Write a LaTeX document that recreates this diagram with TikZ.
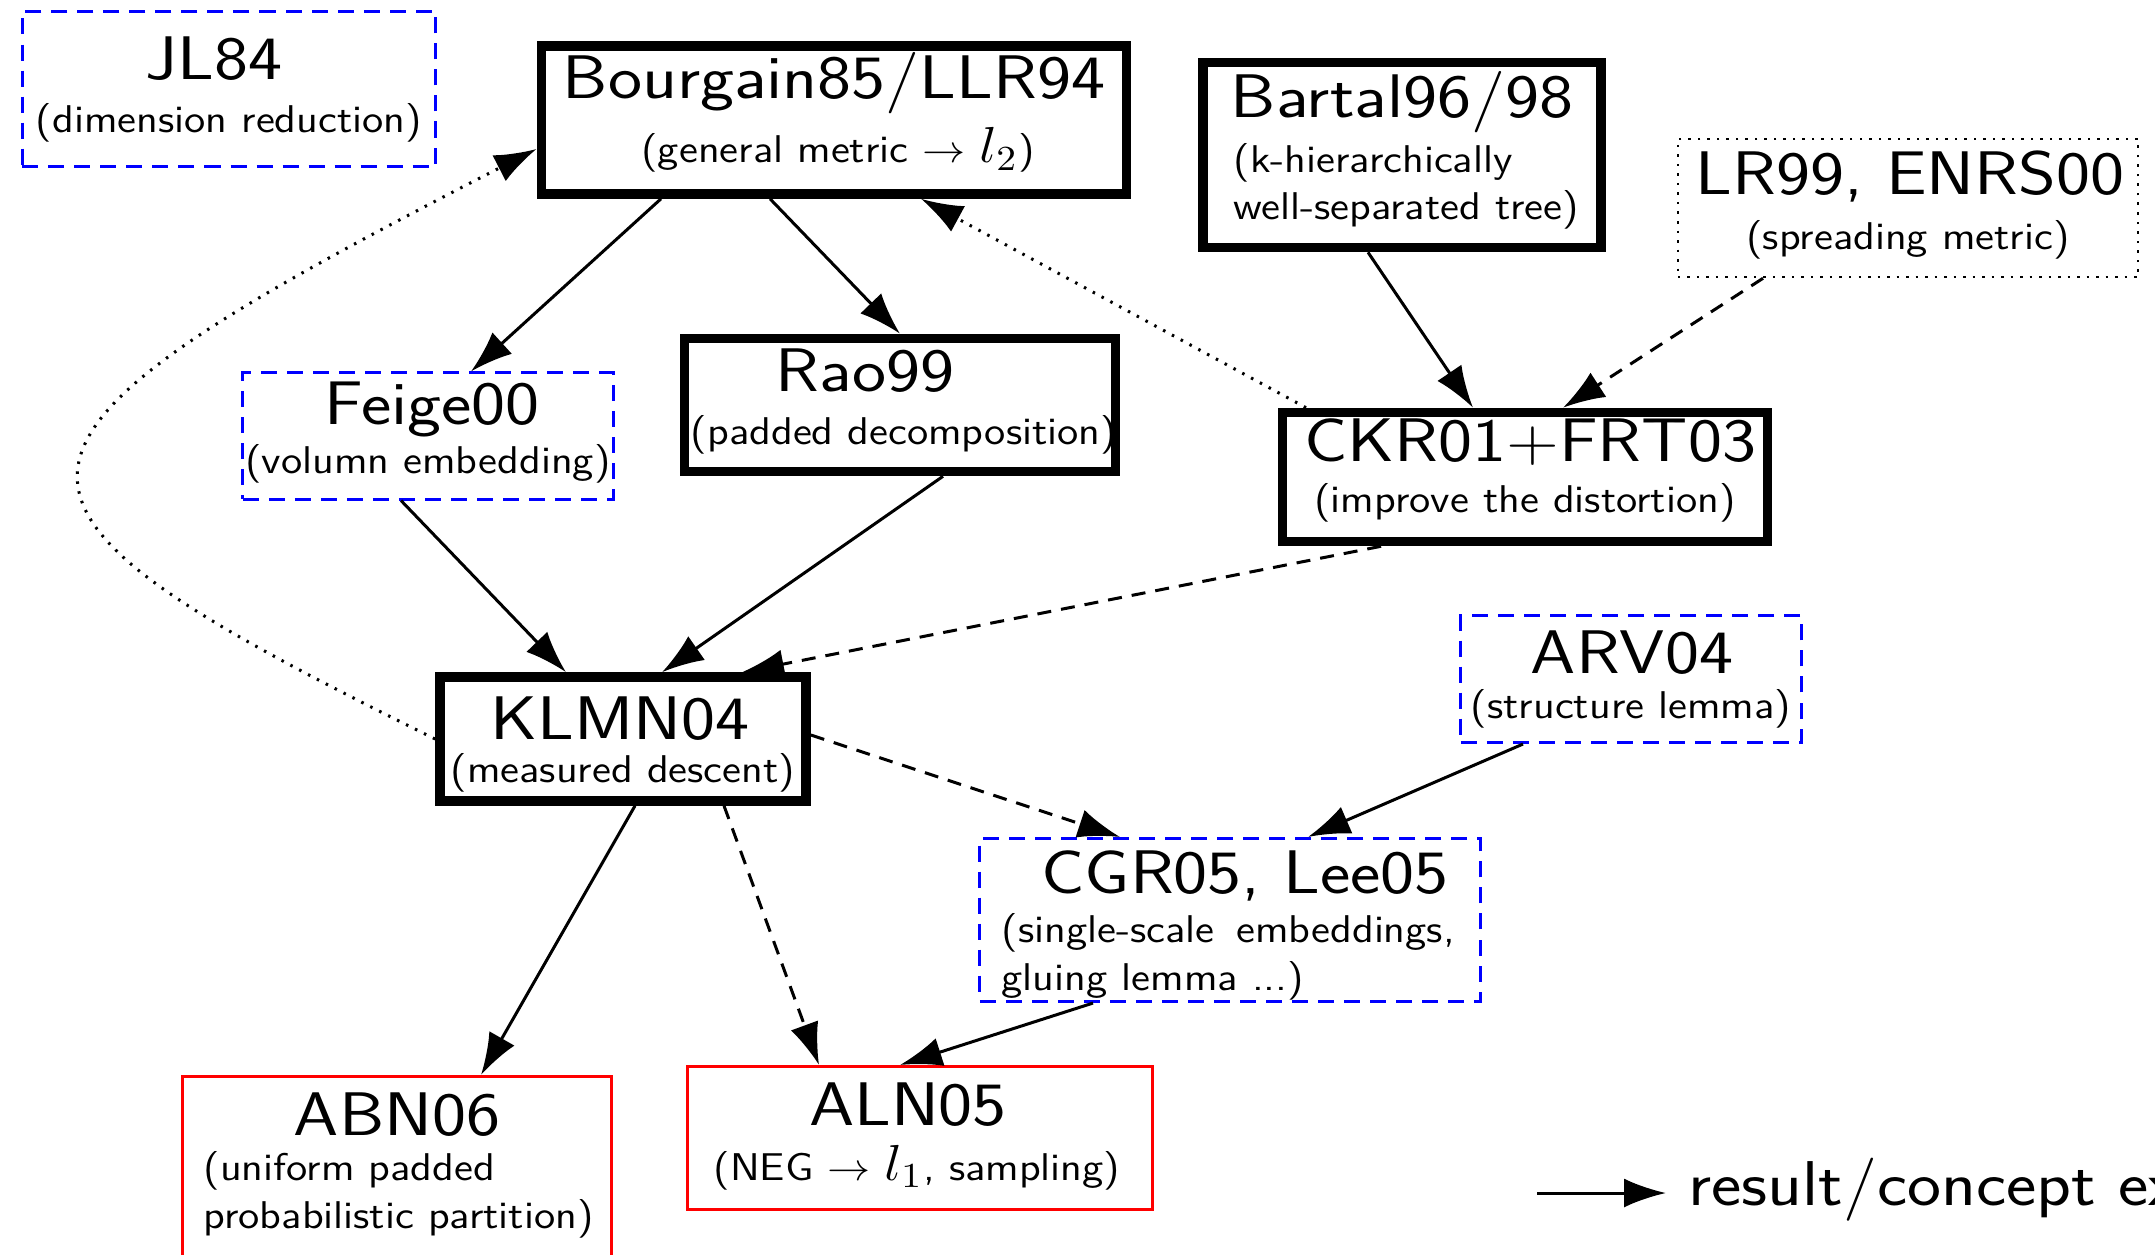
\documentclass[tikz,border=0pt]{standalone}
\usepackage{graphicx}
\usetikzlibrary{arrows.meta,calc}
\newcommand\TT[1]{\scalebox{1.175}[1]{\fontsize{17.5}{20}\selectfont #1}}
\newcommand\SB[1]{\scalebox{1.12}[1]{\fontsize{11}{13}\selectfont #1}}
\newcommand\LG[1]{\scalebox{1.14}[1]{\fontsize{18}{20}\selectfont #1}}
\newcommand\BM[1]{{\fontsize{14}{16}\selectfont$#1$}}
\tikzset{
  tbox/.style={draw, line width=0.095cm, inner sep=0pt},
  bbox/.style={draw=blue, line width=0.03cm, dash pattern=on 0.16cm off 0.1cm, inner sep=0pt},
  rbox/.style={draw=red, line width=0.03cm, inner sep=0pt},
  dbox/.style={draw, line width=0.025cm, dash pattern=on 0.025cm off 0.07cm, inner sep=0pt},
  txt/.style={inner sep=0pt, anchor=base, font=\sffamily},
  conn/.style={line width=0.03cm, -{Latex[length=0.42cm,width=0.29cm]}},
  dconn/.style={conn, dash pattern=on 0.14cm off 0.1cm},
  oconn/.style={conn, dash pattern=on 0.025cm off 0.075cm},
}
\begin{document}
\begin{tikzpicture}[x=0.01cm, y=-0.01cm]
\useasboundingbox (0,0) rectangle (2155,1255);
\clip (0,0) rectangle (2155,1255);
\fill[white] (0,0) rectangle (2155,1255);

% boxes
\node[bbox, minimum width=4.13cm, minimum height=1.55cm] (jl) at (229,89) {};
\node[tbox, minimum width=5.85cm, minimum height=1.48cm] (bour) at (834,120) {};
\node[tbox, minimum width=3.98cm, minimum height=1.85cm] (bart) at (1402,155) {};
\node[dbox, minimum width=4.60cm, minimum height=1.38cm] (lr) at (1908,208) {};
\node[bbox, minimum width=3.70cm, minimum height=1.26cm] (feig) at (428,436) {};
\node[tbox, minimum width=4.31cm, minimum height=1.33cm] (rao) at (900,405) {};
\node[tbox, minimum width=4.85cm, minimum height=1.29cm] (ckr) at (1525,477) {};
\node[tbox, minimum width=3.66cm, minimum height=1.24cm] (klmn) at (623,739) {};
\node[bbox, minimum width=3.40cm, minimum height=1.27cm] (arv) at (1631,679) {};
\node[bbox, minimum width=5.00cm, minimum height=1.63cm] (cgr) at (1230,920) {};
\node[rbox, minimum width=4.29cm, minimum height=1.97cm] (abn) at (397,1175) {};
\node[rbox, minimum width=4.64cm, minimum height=1.43cm] (aln) at (920,1138) {};

% texts
\node[txt] (jlT) at (214,80) {\TT{JL84}};
\node[txt] (jlS) at (229,133) {\SB{(dimension reduction)}};
\node[txt] (bourT) at (834,99) {\TT{Bourgain85/LLR94}};
\node[txt] (bourS) at (838,163) {\SB{(general metric $\rightarrow$ \BM{l_2})}};
\node[txt] (bartT) at (1402,118) {\TT{Bartal96/98}};
\node[txt, anchor=base west] (bartS1) at (1233,173) {\SB{(k-hierarchically}};
\node[txt, anchor=base west] (bartS2) at (1233,220) {\SB{well-separated tree)}};
\node[txt] (lrT) at (1910,195) {\TT{LR99, ENRS00}};
\node[txt] (lrS) at (1908,250) {\SB{(spreading metric)}};
\node[txt] (feigT) at (432,424) {\TT{Feige00}};
\node[txt] (feigS) at (428,473) {\SB{(volumn embedding)}};
\node[txt] (raoT) at (865,392) {\TT{Rao99}};
\node[txt] (raoS) at (904,445) {\SB{(padded decomposition)}};
\node[txt] (ckrT) at (1530,462) {\TT{CKR01+FRT03}};
\node[txt] (ckrS) at (1525,512) {\SB{(improve the distortion)}};
\node[txt] (klmnT) at (620,739) {\TT{KLMN04}};
\node[txt] (klmnS) at (623,782) {\SB{(measured descent)}};
\node[txt] (arvT) at (1632,673) {\TT{ARV04}};
\node[txt] (arvS) at (1631,718) {\SB{(structure lemma)}};
\node[txt] (cgrT) at (1245,893) {\TT{CGR05, Lee05}};
\node[txt, anchor=base west] (cgrS1) at (1001,942) {\SB{\makebox[4.045cm][s]{(single-scale \ embeddings,}}};
\node[txt, anchor=base west] (cgrS2) at (1001,990) {\SB{gluing lemma ...)}};
\node[txt] (abnT) at (397,1135) {\TT{ABN06}};
\node[txt, anchor=base west] (abnS1) at (203,1180) {\SB{(uniform padded}};
\node[txt, anchor=base west] (abnS2) at (203,1228) {\SB{probabilistic partition)}};
\node[txt] (alnT) at (908,1125) {\TT{ALN05}};
\node[txt] (alnS) at (917,1180) {\SB{(NEG $\rightarrow$ \BM{l_1}, sampling)}};

% connectors
\draw[conn] ($(bour.south)+(-173,0)$) -- ($(feig.north)+(43,0)$);
\draw[conn] ($(bour.south)+(-64,0)$) -- (rao.north);
\draw[conn] ($(feig.south)+(-27,0)$) -- ($(klmn.north)+(-57,0)$);
\draw[conn] ($(rao.south)+(43,0)$) -- ($(klmn.north)+(39,0)$);
\draw[conn] ($(bart.south)+(-34,0)$) -- ($(ckr.north)+(-52,0)$);
\draw[dconn] ($(lr.south)+(-145,0)$) -- ($(ckr.north)+(38,0)$);
\draw[oconn] ($(ckr.north)+(-219,0)$) -- ($(bour.south)+(87,0)$);
\draw[dconn] ($(ckr.south)+(-144,0)$) -- ($(klmn.north)+(119,0)$);
\draw[oconn] (klmn.west) .. controls (-50,499) and (-55,452) .. ($(bour.west)+(0,29)$);
\draw[dconn] ($(klmn.east)+(0,-4)$) -- ($(cgr.north)+(-110,0)$);
\draw[conn] ($(arv.south)+(-108,0)$) -- ($(cgr.north)+(78,0)$);
\draw[conn] ($(klmn.south)+(12,0)$) -- ($(abn.north)+(84,0)$);
\draw[dconn] ($(klmn.south)+(101,0)$) -- ($(aln.north)+(-101,0)$);
\draw[conn] ($(cgr.south)+(-137,0)$) -- ($(aln.north)+(-20,0)$);

% legend
\coordinate (lgA) at (1537,1193);
\coordinate (lgB) at (1666,1193);
\draw[conn] (lgA) -- (lgB);
\node[txt, anchor=base west] (lgT) at (1688,1205) {\LG{result/concept ex}};
\end{tikzpicture}
\end{document}
